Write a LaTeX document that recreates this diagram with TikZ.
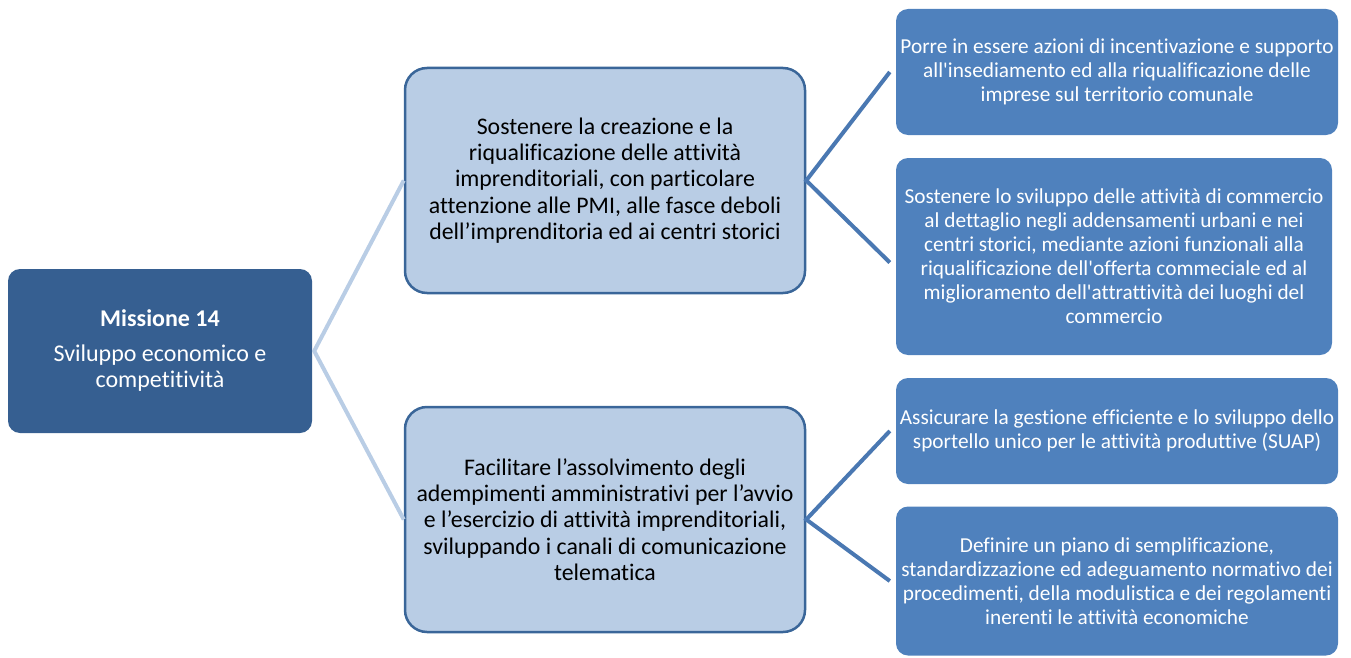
\documentclass[tikz,border=0pt]{standalone}
\usepackage{fontspec}
\setmainfont{Carlito}[Ligatures={TeXOff,NoCommon}]
\definecolor{rootfill}{HTML}{365F91}
\definecolor{midfill}{HTML}{B9CDE5}
\definecolor{midborder}{HTML}{3A6699}
\definecolor{rightfill}{HTML}{4F81BD}
\definecolor{lightline}{HTML}{B9CDE5}
\definecolor{darkline}{HTML}{4A78B2}
\begin{document}
\begin{tikzpicture}[x=1pt,y=-1pt,
  rootbox/.style={fill=rootfill, rounded corners=12pt, text=white, align=center,
    minimum width=304pt, minimum height=164pt, inner sep=0pt,
    font=\fontsize{24}{26.5}\selectfont},
  midbox/.style={fill=midfill, draw=midborder, line width=2.5pt, rounded corners=22pt,
    text=black, align=center, minimum width=400pt, minimum height=225pt, inner sep=0pt,
    font=\fontsize{23.8}{26.3}\selectfont},
  rightbox/.style={fill=rightfill, rounded corners=12pt, text=white, align=center,
    minimum height=100pt, inner sep=0pt, font=\fontsize{21.3}{24}\selectfont},
  lightconn/.style={draw=lightline, line width=4pt},
  darkconn/.style={draw=darkline, line width=4pt}
]
\useasboundingbox (0,0) rectangle (1351,658);

\node[rootbox] (root) at (160,351) {\textbf{Missione 14}\\[8pt]Sviluppo economico e\\competitività};

\node[midbox] (m1) at (605,180.5) {Sostenere la creazione e la\\riqualificazione delle attività\\imprenditoriali, con particolare\\attenzione alle PMI, alle fasce deboli\\dell’imprenditoria ed ai centri storici};
\node[midbox] (m2) at (605,519.5) {Facilitare l’assolvimento degli\\adempimenti amministrativi per l’avvio\\e l’esercizio di attività imprenditoriali,\\sviluppando i canali di comunicazione\\telematica};

\node[rightbox, minimum width=442pt, minimum height=126pt] (r1) at (1117,72) {Porre in essere azioni di incentivazione e supporto\\all'insediamento ed alla riqualificazione delle\\imprese sul territorio comunale};
\node[rightbox, minimum width=436pt, minimum height=197pt] (r2) at (1114,256.5) {Sostenere lo sviluppo delle attività di commercio\\al dettaglio negli addensamenti urbani e nei\\centri storici, mediante azioni funzionali alla\\riqualificazione dell'offerta commeciale ed al\\miglioramento dell'attrattività dei luoghi del\\commercio};
\node[rightbox, minimum width=442pt, minimum height=106pt] (r3) at (1117,431) {Assicurare la gestione efficiente e lo sviluppo dello\\sportello unico per le attività produttive (SUAP)};
\node[rightbox, minimum width=442pt, minimum height=149pt] (r4) at (1117,581) {Definire un piano di semplificazione,\\standardizzazione ed adeguamento normativo dei\\procedimenti, della modulistica e dei regolamenti\\inerenti le attività economiche};

\draw[lightconn] (m1.west) -- ([xshift=2pt]root.east) -- (m2.west);
\draw[darkconn] ([xshift=-6pt]r1.west) -- (m1.east) -- ([xshift=-6pt,yshift=-6pt]r2.west);
\draw[darkconn] ([xshift=-6pt]r3.west) -- (m2.east) -- ([xshift=-6pt]r4.west);
\end{tikzpicture}
\end{document}
